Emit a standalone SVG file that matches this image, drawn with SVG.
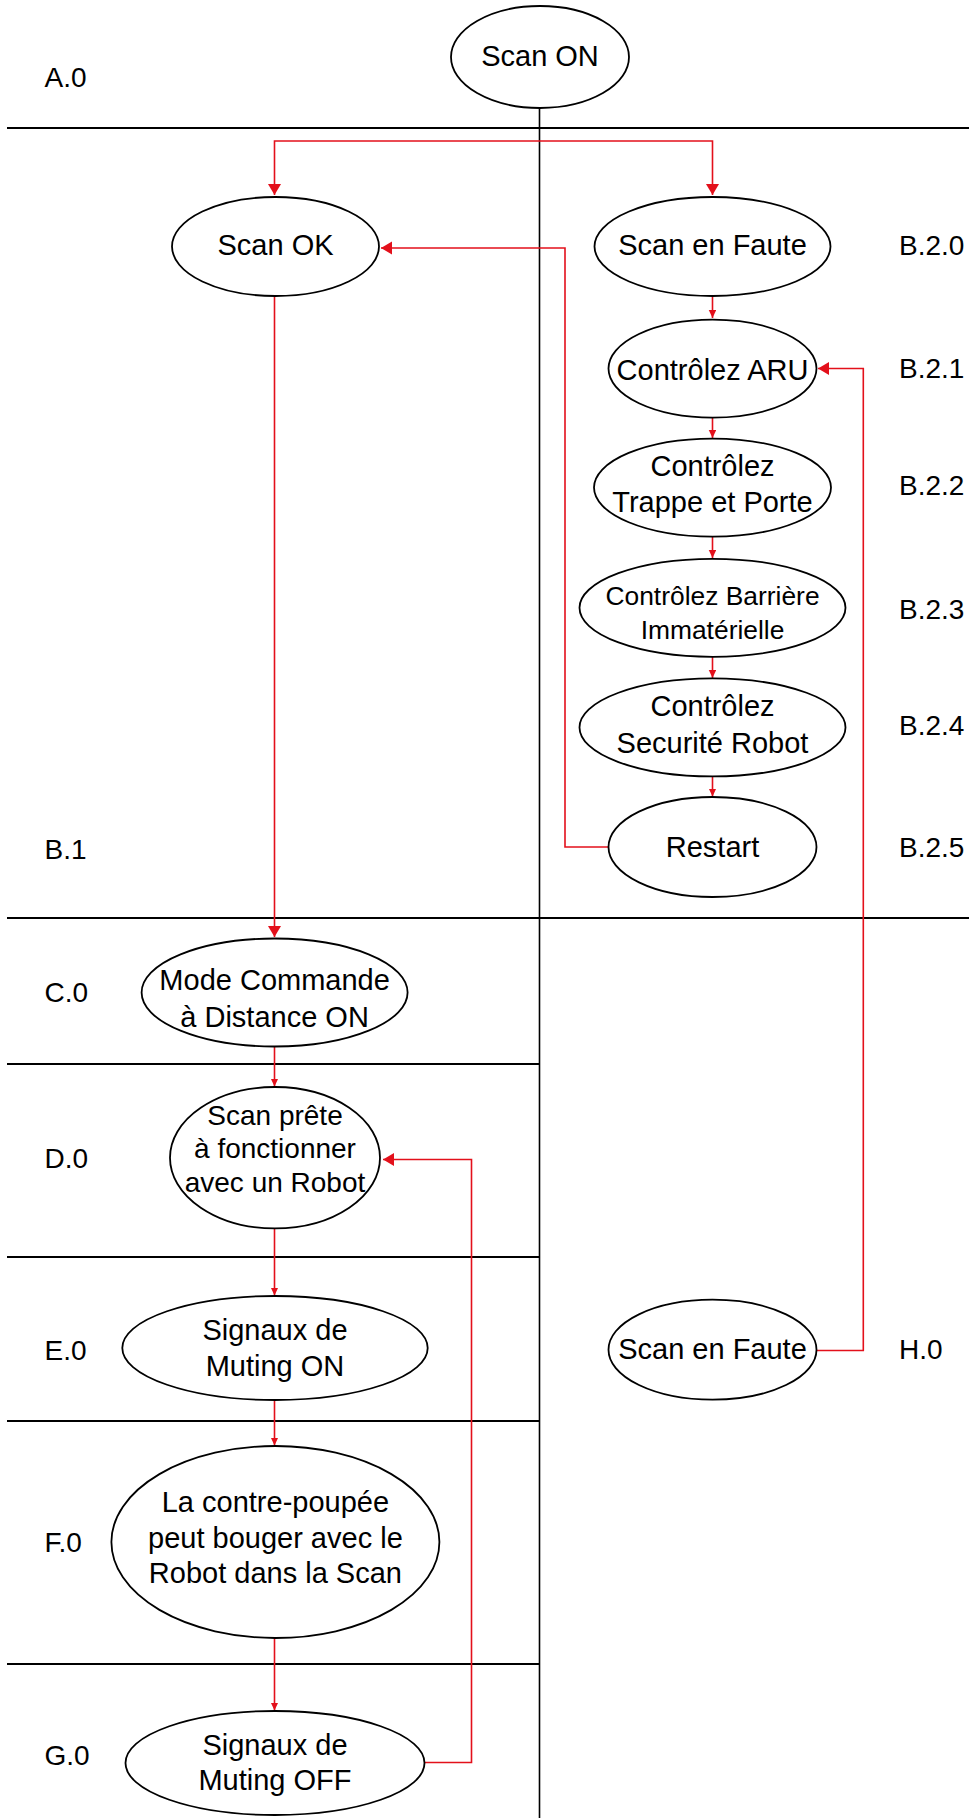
<svg xmlns="http://www.w3.org/2000/svg" width="969" height="1818" viewBox="0 0 969 1818">
<style>
.bg{fill:#ffffff}
.node ellipse{fill:#ffffff;stroke:#000000;stroke-width:1.8}
text{font-family:"Liberation Sans",Arial,sans-serif;font-size:28px;fill:#000000}
.node text{text-anchor:middle;font-size:29px}
.node text.s1{font-size:26.4px}
.node text.s2{font-size:28px}
.sep{stroke:#000000;stroke-width:2;fill:none}
.lane{stroke:#000000;stroke-width:1.6;fill:none}
.c{stroke:#e3101b;stroke-width:1.6;fill:none}
.big{marker-end:url(#ab)}
.small{marker-end:url(#as)}
</style>
<defs>
<marker id="ab" markerUnits="userSpaceOnUse" markerWidth="12" markerHeight="14" refX="11" refY="6.5" orient="auto">
<path d="M0,0 L11,6.5 L0,13 z" fill="#e3101b"/>
</marker>
<marker id="as" markerUnits="userSpaceOnUse" markerWidth="9" markerHeight="8" refX="8" refY="3.75" orient="auto">
<path d="M0,0 L8,3.75 L0,7.5 z" fill="#e3101b"/>
</marker>
</defs>
<rect class="bg" x="0" y="0" width="969" height="1818"/>
<g id="lanes">
<line class="sep" x1="7" y1="128" x2="969" y2="128"/>
<line class="lane" x1="539.5" y1="108" x2="539.5" y2="1818"/>
<line class="sep" x1="7" y1="918" x2="969" y2="918"/>
<line class="sep" x1="7" y1="1064" x2="539.5" y2="1064"/>
<line class="sep" x1="7" y1="1257" x2="539.5" y2="1257"/>
<line class="sep" x1="7" y1="1421" x2="539.5" y2="1421"/>
<line class="sep" x1="7" y1="1664" x2="539.5" y2="1664"/>
</g>
<g id="labels">
<text x="44.5" y="87">A.0</text>
<text x="44.5" y="859">B.1</text>
<text x="44.5" y="1002">C.0</text>
<text x="44.5" y="1168">D.0</text>
<text x="44.5" y="1360">E.0</text>
<text x="44.5" y="1552">F.0</text>
<text x="44.5" y="1765">G.0</text>
<text x="899" y="255">B.2.0</text>
<text x="899" y="378">B.2.1</text>
<text x="899" y="495">B.2.2</text>
<text x="899" y="619">B.2.3</text>
<text x="899" y="735">B.2.4</text>
<text x="899" y="857">B.2.5</text>
<text x="899" y="1359">H.0</text>
</g>
<g id="connectors">
<path class="c big" d="M540,141 H274.5 V195"/>
<path class="c big" d="M540,141 H712.5 V195"/>
<path class="c big" d="M608.5,847 H565 V248 H381"/>
<path class="c big" d="M274.5,296 V937"/>
<path class="c small" d="M712.5,296 V318"/>
<path class="c small" d="M712.5,417.6 V438"/>
<path class="c small" d="M712.5,536.6 V558"/>
<path class="c small" d="M712.5,656.8 V678"/>
<path class="c small" d="M712.5,776.4 V796.5"/>
<path class="c small" d="M274.5,1046.5 V1086.5"/>
<path class="c small" d="M274.5,1228.4 V1295.5"/>
<path class="c small" d="M274.5,1400 V1445.5"/>
<path class="c small" d="M274.5,1638 V1710.5"/>
<path class="c big" d="M424.5,1762.5 H471.5 V1159.5 H383"/>
<path class="c big" d="M816.5,1350.5 H863.3 V368.5 H818"/>
</g>
<g id="n_scan_on" class="node">
<ellipse cx="540" cy="57" rx="89" ry="51"/>
<text x="540" y="65.5">Scan ON</text>
</g>
<g id="n_scan_ok" class="node">
<ellipse cx="275.5" cy="246.5" rx="103.5" ry="49.5"/>
<text x="275.5" y="254.5">Scan OK</text>
</g>
<g id="n_b20" class="node">
<ellipse cx="712.5" cy="246.5" rx="118" ry="49.5"/>
<text x="712.5" y="254.5">Scan en Faute</text>
</g>
<g id="n_b21" class="node">
<ellipse cx="712.5" cy="368.6" rx="104" ry="49"/>
<text x="712.5" y="379.5">Contrôlez ARU</text>
</g>
<g id="n_b22" class="node">
<ellipse cx="712.5" cy="487.6" rx="118.5" ry="49"/>
<text x="712.5" y="476">Contrôlez</text>
<text x="712.5" y="511.5">Trappe et Porte</text>
</g>
<g id="n_b23" class="node">
<ellipse cx="712.5" cy="607.8" rx="133" ry="49"/>
<text class="s1" x="712.5" y="605.3">Contrôlez Barrière</text>
<text class="s1" x="712.5" y="638.6">Immatérielle</text>
</g>
<g id="n_b24" class="node">
<ellipse cx="712.5" cy="727.4" rx="133" ry="49"/>
<text x="712.5" y="716.3">Contrôlez</text>
<text x="712.5" y="752.6">Securité Robot</text>
</g>
<g id="n_b25" class="node">
<ellipse cx="712.5" cy="847" rx="104" ry="50"/>
<text x="712.5" y="857">Restart</text>
</g>
<g id="n_c0" class="node">
<ellipse cx="274.6" cy="992.5" rx="133" ry="54"/>
<text x="274.6" y="990">Mode Commande</text>
<text x="274.6" y="1026.7">à Distance ON</text>
</g>
<g id="n_d0" class="node">
<ellipse cx="275" cy="1157.7" rx="105" ry="70.7"/>
<text class="s2" x="275" y="1125">Scan prête</text>
<text class="s2" x="275" y="1158.3">à fonctionner</text>
<text class="s2" x="275" y="1191.7">avec un Robot</text>
</g>
<g id="n_e0" class="node">
<ellipse cx="275" cy="1348" rx="152.7" ry="52"/>
<text x="275" y="1340">Signaux de</text>
<text x="275" y="1376">Muting ON</text>
</g>
<g id="n_f0" class="node">
<ellipse cx="275.4" cy="1542" rx="164" ry="96"/>
<text x="275.4" y="1511.7">La contre-poupée</text>
<text x="275.4" y="1548.3">peut bouger avec le</text>
<text x="275.4" y="1583.3">Robot dans la Scan</text>
</g>
<g id="n_g0" class="node">
<ellipse cx="275" cy="1763" rx="149.5" ry="52"/>
<text x="275" y="1755">Signaux de</text>
<text x="275" y="1790">Muting OFF</text>
</g>
<g id="n_h0" class="node">
<ellipse cx="712.5" cy="1349.7" rx="104" ry="50"/>
<text x="712.5" y="1359.3">Scan en Faute</text>
</g>
</svg>
